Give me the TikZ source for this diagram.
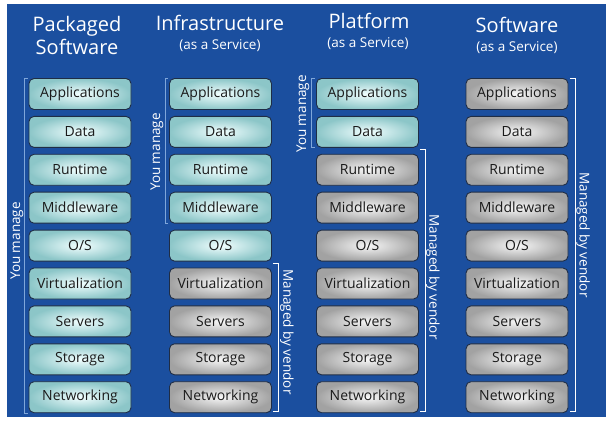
\documentclass[tikz,border=0pt]{standalone}
\usepackage{fontspec}
\setmainfont{Open Sans}
\definecolor{bgblue}{HTML}{1B4F9F}
\definecolor{tealin}{HTML}{F2FFFF}
\definecolor{tealout}{HTML}{8CC6C8}
\definecolor{grayin}{HTML}{F7F7F7}
\definecolor{grayout}{HTML}{A2A2A2}
\definecolor{boxedge}{HTML}{1F2D45}
\definecolor{textdark}{HTML}{1A1A1A}
\definecolor{faintline}{HTML}{7FA6DA}
\begin{document}
\begin{tikzpicture}[x=1pt,y=-1pt,
  layer/.style={rounded corners=5pt, minimum width=102pt, minimum height=31pt,
    draw=boxedge, line width=0.9pt, font=\fontsize{14}{16}\selectfont,
    text=textdark, inner sep=0pt, shading=radial},
  mine/.style={layer, inner color=tealin, outer color=tealout},
  vendor/.style={layer, inner color=grayin, outer color=grayout},
  title/.style={text=white, font=\fontsize{20}{22}\selectfont, anchor=base},
  subtitle/.style={text=white, font=\fontsize{13.5}{15}\selectfont, anchor=base},
  sidetext/.style={text=white, font=\fontsize{13.5}{15}\selectfont, inner sep=0pt},
  vbracket/.style={draw=white, line width=0.9pt},
  ubracket/.style={draw=faintline, line width=0.7pt}
]
\useasboundingbox (0,0) rectangle (613,422);
\fill[white] (0,0) rectangle (613,422);
\fill[bgblue] (7,4) rectangle (606,417);

% titles
\node[title] (t1a) at (77,32) {Packaged};
\node[title] (t1b) at (77,55) {Software};
\node[title] (t2a) at (220,31) {Infrastructure};
\node[subtitle] (t2b) at (220,50) {(as a Service)};
\node[title] (t3a) at (369,29) {Platform};
\node[subtitle] (t3b) at (368,48) {(as a Service)};
\node[title] (t4a) at (517,33) {Software};
\node[subtitle] (t4b) at (517,52) {(as a Service)};

% layers
\foreach \t [count=\i] in {Applications,Data,Runtime,Middleware,O/S,Virtualization,Servers,Storage,Networking}{
  \pgfmathsetmacro{\yy}{94+37.9*(\i-1)}
  \node[mine] (a\i) at (80,\yy) {\t};
  \ifnum\i>5 \def\stb{vendor}\else\def\stb{mine}\fi
  \node[\stb] (b\i) at (220.5,\yy) {\t};
  \ifnum\i>2 \def\stc{vendor}\else\def\stc{mine}\fi
  \node[\stc] (c\i) at (367.5,\yy) {\t};
  \node[vendor] (d\i) at (517,\yy) {\t};
}

% "You manage" brackets
\draw[ubracket] ([shift={(-1,0)}]a1.north west) -- ++(-3,0) |- ([shift={(-1,0)}]a9.south west);
\draw[ubracket] ([shift={(-1,0)}]b1.north west) -- ++(-3,0) |- ([shift={(-1,0)}]b4.south west);
\draw[ubracket] ([shift={(-1,0)}]c1.north west) -- ++(-4,0) |- ([shift={(-1,0)}]c2.south west);
\node[sidetext, rotate=90] (u1) at (17,241) {You manage};
\node[sidetext, rotate=90] (u2) at (157,152) {You manage};
\node[sidetext, rotate=90] (u3) at (303,114) {You manage};

% "Managed by vendor" brackets
\draw[vbracket] ([shift={(1.5,-4)}]b6.north east) -- ++(5,0) |- ([shift={(1.5,-2)}]b9.south east);
\draw[vbracket] ([shift={(1.5,-4)}]c3.north east) -- ++(5,0) |- ([shift={(1.5,-2)}]c9.south east);
\draw[vbracket] ([shift={(1.5,0)}]d1.north east) -- ++(5,0) |- ([shift={(1.5,-2)}]d9.south east);
\node[sidetext, rotate=-90] (v2) at (287,332) {Managed by vendor};
\node[sidetext, rotate=-90] (v3) at (433,277) {Managed by vendor};
\node[sidetext, rotate=-90] (v4) at (583,235) {Managed by vendor};
\end{tikzpicture}
\end{document}
